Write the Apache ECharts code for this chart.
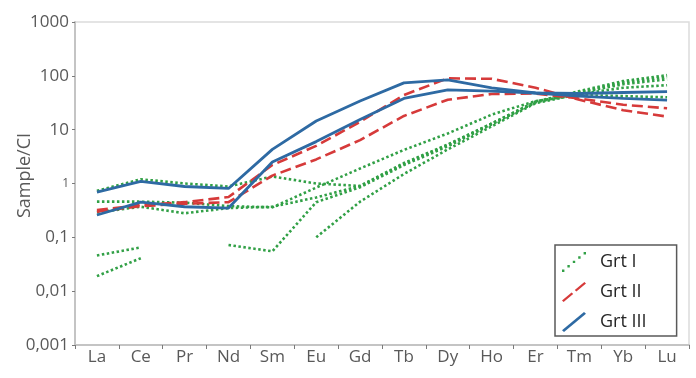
<!DOCTYPE html>
<html>
<head>
<meta charset="utf-8">
<script src="https://cdn.jsdelivr.net/npm/echarts@6/dist/echarts.min.js"></script>
<style>
html,body{margin:0;padding:0;background:#fff;}
#chart{width:696px;height:378px;}
</style>
</head>
<body>
<div id="chart"></div>
<script>
const categories = ['La','Ce','Pr','Nd','Sm','Eu','Gd','Tb','Dy','Ho','Er','Tm','Yb','Lu'];
const yTickLabels = ['0,001','0,01','0,1','1','10','100','1000'];
const seriesNames = ['Grt I','Grt II','Grt III'];

// Grt I (green dotted)
const grtI_a = [0.73, 1.2, 1.0, 0.88, 1.35, 1.0, 0.9, 2.4, 5.3, 13, 33, 52, 80, 103];
const grtI_b = [0.46, 0.46, 0.44, 0.38, 0.36, 0.84, 1.9, 4.2, 8.5, 19, 34, 44, 42, 40];
const grtI_c = [0.29, 0.37, 0.28, 0.35, 0.37, 0.55, 0.9, 2.3, 5.2, 13, 33, 50, 75, 95];
const grtI_d = [0.046, 0.065, null, 0.072, 0.055, 0.45, 0.85, 2.2, 4.9, 12.5, 32, 48, 70, 86];
const grtI_e = [0.019, 0.041, null, null, null, 0.1, 0.46, 1.5, 4.3, 11.5, 31, 46, 60, 67];
// Grt II (red dashed)
const grtII_a = [0.32, 0.40, 0.45, 0.56, 2.2, 5.0, 14, 44, 90, 88, 60, 36, 23, 17.5];
const grtII_b = [0.30, 0.38, 0.42, 0.45, 1.4, 2.8, 6.4, 18, 36, 46, 47, 38, 29, 25];
// Grt III (blue solid)
const grtIII_a = [0.69, 1.1, 0.88, 0.81, 4.3, 14.5, 34, 74, 84, 60, 48, 42, 38, 35.5];
const grtIII_b = [0.26, 0.45, 0.37, 0.35, 2.5, 6.0, 15.5, 38, 55, 52, 48, 47, 49, 51];

const GREEN = '#31a046', RED = '#d63a3a', BLUE = '#2e6aa3';

function mk(name, data, color, type, width) {
  return {
    name: name, type: 'line', data: data, symbol: 'none', showSymbol: false,
    connectNulls: false, smooth: false,
    itemStyle: { color: color },
    lineStyle: { color: color, width: width, type: type, cap: 'butt' },
    emphasis: { disabled: true }
  };
}

const dotted = [2.5, 2.5];
const dashed = [11, 5];

const series = [
  mk(seriesNames[0], grtI_a, GREEN, dotted, 2.6),
  mk(seriesNames[0], grtI_b, GREEN, dotted, 2.6),
  mk(seriesNames[0], grtI_c, GREEN, dotted, 2.6),
  mk(seriesNames[0], grtI_d, GREEN, dotted, 2.6),
  mk(seriesNames[0], grtI_e, GREEN, dotted, 2.6),
  mk(seriesNames[1], grtII_a, RED, dashed, 2.6),
  mk(seriesNames[1], grtII_b, RED, dashed, 2.6),
  mk(seriesNames[2], grtIII_a, BLUE, 'solid', 2.8),
  mk(seriesNames[2], grtIII_b, BLUE, 'solid', 2.8)
];

const iconDotted = 'path://M0,17.6 L2.4,17.6 L2.4,20 L0,20 Z M5.4,13.1 L7.8,13.1 L7.8,15.5 L5.4,15.5 Z M10.8,8.7 L13.2,8.7 L13.2,11.1 L10.8,11.1 Z M16.2,4.3 L18.6,4.3 L18.6,6.7 L16.2,6.7 Z M21.6,0 L24,0 L24,2.4 L21.6,2.4 Z';
const iconDashed = 'path://M0,18.4 L9.6,10.4 L11.2,12 L1.6,20 Z M12.8,8 L22.4,0 L24,1.6 L14.4,9.6 Z';
const iconSolid = 'path://M0,18.3 L22,0 L24,1.7 L2,20 Z';

const chart = echarts.init(document.getElementById('chart'), null, {renderer: 'canvas'});
chart.setOption({
  animation: false,
  backgroundColor: '#ffffff',
  textStyle: { fontFamily: '"Open Sans", sans-serif' },
  grid: {
    left: 75, right: 7, top: 22, bottom: 33,
    containLabel: false, outerBoundsMode: 'none',
    show: true, borderColor: '#dcdcdc', borderWidth: 1.5, backgroundColor: 'transparent'
  },
  legend: {
    left: 555, top: 245, orient: 'vertical',
    itemWidth: 24, itemHeight: 20, itemGap: 10,
    padding: [7, 30, 4, 7],
    borderColor: '#595959', borderWidth: 1.5, backgroundColor: '#ffffff',
    textStyle: { color: '#262626', fontSize: 18, fontFamily: '"Open Sans", sans-serif', padding: [0, 0, 0, 9] },
    symbolKeepAspect: false,
    selectedMode: false,
    data: [
      { name: seriesNames[0], icon: iconDotted, itemStyle: { color: GREEN, borderWidth: 0 } },
      { name: seriesNames[1], icon: iconDashed, itemStyle: { color: RED, borderWidth: 0 } },
      { name: seriesNames[2], icon: iconSolid, itemStyle: { color: BLUE, borderWidth: 0 } }
    ]
  },
  xAxis: {
    type: 'category', data: categories, boundaryGap: true,
    axisLine: { lineStyle: { color: '#c4c4c4', width: 2 } },
    axisTick: { show: true, length: 4, lineStyle: { color: '#7a7a7a', width: 1 } },
    axisLabel: { color: '#595959', fontSize: 17, margin: 4, fontFamily: '"Open Sans", sans-serif' },
    splitLine: { show: false }
  },
  yAxis: {
    type: 'log', logBase: 10, min: 0.001, max: 1000,
    name: 'Sample/CI', nameLocation: 'middle', nameGap: 41, nameRotate: 90,
    nameMoveOverlap: false,
    nameTextStyle: { color: '#595959', fontSize: 18, fontFamily: '"Open Sans", sans-serif', padding: [0, 0, 0, 16] },
    axisLine: { show: true, lineStyle: { color: '#c4c4c4', width: 2 } },
    axisTick: { show: true, length: 3, lineStyle: { color: '#7a7a7a', width: 1 } },
    splitLine: { show: false },
    axisLabel: {
      color: '#595959', fontSize: 17, margin: 6, fontFamily: '"Open Sans", sans-serif',
      formatter: function (v) {
        const i = Math.round(Math.log10(v)) + 3;
        const s = yTickLabels[i];
        return s === '1' ? '{small|' + s + '}' : s;
      },
      rich: { small: { fontSize: 12, color: '#595959', fontFamily: '"Open Sans", sans-serif' } }
    }
  },
  series: series
});
</script>
</body>
</html>
